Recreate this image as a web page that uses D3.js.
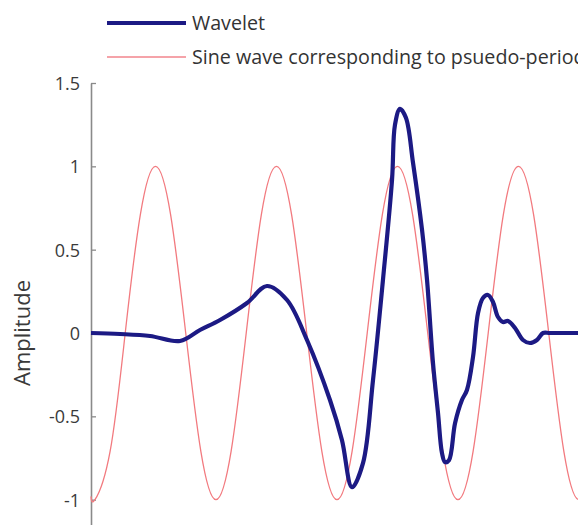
<!DOCTYPE html>
<html>
<head>
<meta charset="utf-8">
<script src="https://cdn.jsdelivr.net/npm/d3@7/dist/d3.min.js"></script>
<style>
  html, body { margin: 0; padding: 0; background: #fff; }
  svg { display: block; }
</style>
</head>
<body>
<svg id="chart" width="578" height="525"></svg>
<script>
// Wavelet trace: time (support units) and amplitude
const waveletT = [0.000, 0.336, 0.683, 1.030, 1.261, 1.493, 1.805, 2.036, 2.268, 2.499,
  2.765, 2.904, 3.020, 3.147, 3.263, 3.378, 3.483, 3.517, 3.575, 3.644,
  3.726, 3.830, 3.888, 3.957, 4.015, 4.061, 4.096, 4.142, 4.212, 4.292,
  4.350, 4.420, 4.478, 4.535, 4.593, 4.651, 4.709, 4.767, 4.825, 4.906,
  4.998, 5.079, 5.160, 5.230, 5.311, 5.658, 7.000];
const waveletA = [0.000, -0.006, -0.018, -0.048, 0.018, 0.078, 0.180, 0.282, 0.198, -0.042,
  -0.402, -0.643, -0.925, -0.781, -0.282, 0.318, 0.919, 1.249, 1.345, 1.291,
  1.021, 0.619, 0.318, -0.180, -0.480, -0.721, -0.775, -0.763, -0.541, -0.402,
  -0.342, -0.144, 0.120, 0.210, 0.228, 0.186, 0.096, 0.066, 0.072, 0.030,
  -0.042, -0.060, -0.042, 0.000, 0.000, 0.000, 0.000];

// Sine at the pseudo-period, sampled every eighth of a period
const sineT = [0.000, 0.046, 0.221, 0.396, 0.571, 0.746, 0.921, 1.096, 1.271, 1.446,
  1.621, 1.796, 1.971, 2.146, 2.321, 2.496, 2.671, 2.846, 3.021, 3.196,
  3.371, 3.546, 3.721, 3.896, 4.071, 4.246, 4.421, 4.596, 4.771, 4.946,
  5.121, 5.296, 5.471, 5.646, 5.821, 5.996];
const sineA = [-0.98, -1, -0.71, 0, 0.71, 1, 0.71, 0, -0.71, -1,
  -0.71, 0, 0.71, 1, 0.71, 0, -0.71, -1, -0.71, 0,
  0.71, 1, 0.71, 0, -0.71, -1, -0.71, 0, 0.71, 1,
  0.71, 0, -0.71, -1, -0.71, 0];

const yTicks = [-1, -0.5, 0, 0.5, 1, 1.5];
const yTickLabels = ["-1", "-0.5", "0", "0.5", "1", "1.5"];

const seriesNames = ["Wavelet", "Sine wave corresponding to psuedo-period"];
const seriesColors = ["#1c1a84", "#f27a7f"];
const seriesWidths = [4.2, 1.3];

const svg = d3.select("#chart");
const font = "'Open Sans', 'DejaVu Sans', sans-serif";

const x = d3.scaleLinear().domain([0, 7]).range([91, 696]);
const y = d3.scaleLinear().domain([-1.5, 1.5]).range([583, 83]);

// y axis with inward ticks
const yAxis = d3.axisLeft(y)
  .tickValues(yTicks)
  .tickFormat((d, i) => yTickLabels[i])
  .tickSizeInner(-5)
  .tickSizeOuter(0)
  .tickPadding(11);

const gy = svg.append("g")
  .attr("transform", `translate(${x(0)},0)`)
  .call(yAxis);
gy.select(".domain").attr("stroke", "#8a8a8a").attr("stroke-width", 1.6);
gy.selectAll(".tick line").attr("stroke", "#8a8a8a").attr("stroke-width", 1.3);
gy.selectAll(".tick text")
  .attr("font-family", font)
  .attr("font-size", 18)
  .attr("fill", "#3a3a3a")
  .attr("dy", "0.36em");

svg.append("text")
  .attr("transform", `translate(30,${y(0)}) rotate(-90)`)
  .attr("text-anchor", "middle")
  .attr("font-family", font)
  .attr("font-size", 22)
  .attr("fill", "#3a3a3a")
  .text("Amplitude");

// curves
const sinePts = sineT.map((t, i) => [t, sineA[i]]);
const wavePts = waveletT.map((t, i) => [t, waveletA[i]]);

svg.append("path")
  .datum(sinePts)
  .attr("fill", "none")
  .attr("stroke", seriesColors[1])
  .attr("stroke-width", seriesWidths[1])
  .attr("d", d3.line().x(d => x(d[0])).y(d => y(d[1])).curve(d3.curveNatural));

svg.append("path")
  .datum(wavePts)
  .attr("fill", "none")
  .attr("stroke", seriesColors[0])
  .attr("stroke-width", seriesWidths[0])
  .attr("stroke-linejoin", "round")
  .attr("d", d3.line().x(d => x(d[0])).y(d => y(d[1])).curve(d3.curveCatmullRom.alpha(0.5)));

// legend
const legendY = [23, 57];
const legend = svg.append("g");
seriesNames.forEach((name, i) => {
  legend.append("line")
    .attr("x1", 107).attr("x2", 186)
    .attr("y1", legendY[i]).attr("y2", legendY[i])
    .attr("stroke", i === 0 ? seriesColors[0] : "#f5a3a9")
    .attr("stroke-width", i === 0 ? 4 : 2);
  legend.append("text")
    .attr("x", 192)
    .attr("y", legendY[i] + 7)
    .attr("font-family", font)
    .attr("font-size", 19.7)
    .attr("fill", "#333")
    .text(name);
});
</script>
</body>
</html>
